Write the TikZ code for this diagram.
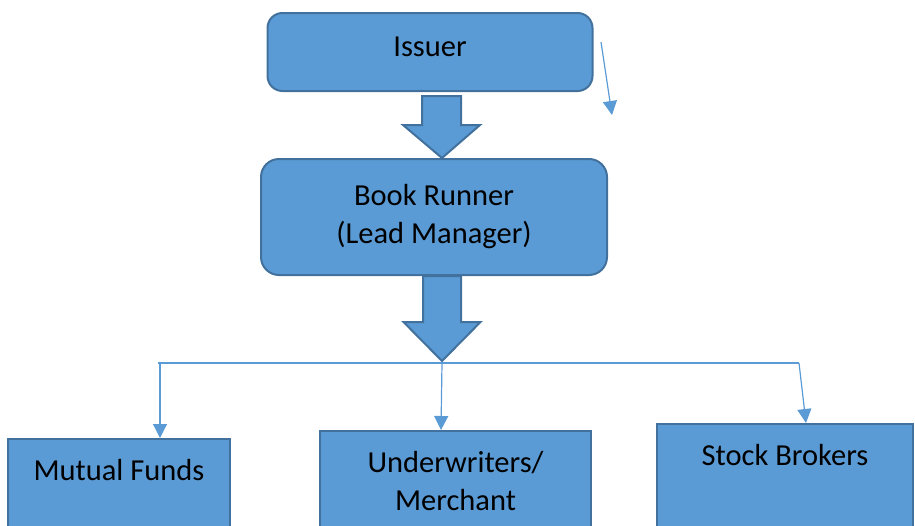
\documentclass[tikz,border=0pt]{standalone}
\usepackage{fontspec}
\setmainfont{Carlito}
\usetikzlibrary{arrows.meta,calc}
\definecolor{boxfill}{HTML}{5B9BD5}
\definecolor{boxline}{HTML}{41719C}
\definecolor{connc}{HTML}{5B9BD5}
\begin{document}
\begin{tikzpicture}[x=1pt,y=-1pt,
  font=\fontsize{30.5}{38}\selectfont,
  topbox/.style={draw=boxline, fill=boxfill, line width=2pt, inner sep=0pt},
  lowbox/.style={draw=boxline, fill=boxfill, line width=2pt, anchor=north, inner sep=0pt, text height=41pt, text depth=110pt},
  barrow/.style={draw=boxline, fill=boxfill, line width=2pt, line join=miter},
  conn/.style={draw=connc, line width=1.2pt},
  tipa/.style={-{Triangle[width=14pt,length=14pt]}}]
\useasboundingbox (0,0) rectangle (915,525);
\clip (0,0) rectangle (915,525);
% top boxes
\node[topbox, rounded corners=15pt, minimum width=325pt, minimum height=78pt, text height=20pt, text depth=12pt] (iss) at (430,52) {Issuer};
\node[topbox, rounded corners=18pt, minimum width=346pt, minimum height=116pt, text height=20pt, text depth=44pt] (br) at (434,217)
  {\begin{tabular}[t]{@{}c@{}}Book Runner\\(Lead Manager)\end{tabular}};
% lower boxes
\node[lowbox, minimum width=222pt] (mf) at (119,438) {Mutual Funds};
\node[lowbox, minimum width=271pt] (uw) at (455.5,430) {\begin{tabular}[t]{@{}c@{}}Underwriters/\\Merchant\end{tabular}};
\node[lowbox, minimum width=256pt] (sb) at (785,423) {Stock Brokers};
% block arrows
\coordinate (a1t) at ($(iss.south)+(11.5,4)$);
\coordinate (a1h) at ($(br.north)+(8,0)$);
\draw[barrow] let \p1=(a1t), \p2=(a1h) in
  (\x1-19.5pt,\y1) -- (\x1+19.5pt,\y1) -- (\x1+19.5pt,\y2+33pt) -- (\x1+38.5pt,\y2+33pt)
  -- (\x2,\y2) -- (\x1-38.5pt,\y2+33pt) -- (\x1-19.5pt,\y2+33pt) -- cycle;
\coordinate (a2t) at ($(br.south)+(8,0)$);
\coordinate (a2h) at (442,361);
\draw[barrow] let \p1=(a2t), \p2=(a2h) in
  (\x1-19pt,\y1) -- (\x1+19pt,\y1) -- (\x1+19pt,\y2+39pt) -- (\x1+38.5pt,\y2+39pt)
  -- (\x2,\y2) -- (\x1-38.5pt,\y2+39pt) -- (\x1-19pt,\y2+39pt) -- cycle;
% connectors
\coordinate (hl) at (158,363);
\coordinate (hr) at (799,363);
\coordinate (j1) at (160,363);
\coordinate (j2) at (442,363);
\draw[conn] (hl) -- (hr);
\draw[conn,tipa] (j1) -- (j1 |- mf.north);
\draw[conn,tipa] (j2) -- ($(uw.north)+(-14.5,0)$);
\draw[conn,tipa] (hr) -- ($(sb.north)+(21,0)$);
% stray arrow
\coordinate (s1) at (601,42);
\coordinate (s2) at (612,115);
\draw[conn,tipa] (s1) -- (s2);
\end{tikzpicture}
\end{document}
